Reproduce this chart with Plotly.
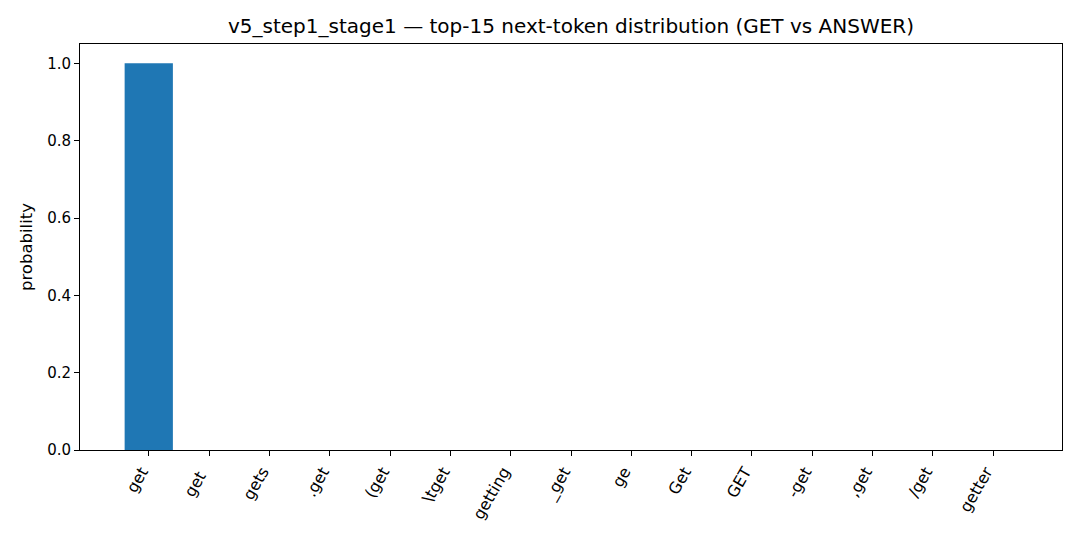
import plotly.graph_objects as go

tokens = ["get", "get ", "gets", ".get", "(get", "\\tget", "getting", "_get", "ge",
          "Get", "GET", "-get", ",get", "/get", "getter"]
probs = [0.99999, 2.0e-7, 8.0e-8, 6.0e-8, 4.0e-8, 3.0e-8, 2.0e-8, 1.5e-8, 1.2e-8,
         1.0e-8, 8.0e-9, 6.0e-9, 5.0e-9, 4.0e-9, 3.0e-9]
yticks = [0.0, 0.2, 0.4, 0.6, 0.8, 1.0]
title = "v5_step1_stage1 — top-15 next-token distribution (GET vs ANSWER)"

x = list(range(len(tokens)))
fig = go.Figure(go.Bar(x=x, y=probs, width=0.8, marker=dict(color="#1f77b4", line=dict(width=0))))

fig.update_layout(
    width=1080, height=540,
    margin=dict(l=80, r=18, t=44, b=90),
    paper_bgcolor="white", plot_bgcolor="white",
    font=dict(family="DejaVu Sans", size=15, color="black"),
    title=dict(text=title, x=0.5, xanchor="center", xref="paper", y=1 - 26/540, yanchor="middle",
               font=dict(size=20, family="DejaVu Sans")),
    showlegend=False,
)
fig.update_xaxes(
    range=[-1.14, 15.14], tickmode="array", tickvals=x, ticktext=tokens, tickangle=-60,
    showgrid=False, zeroline=False, showline=True, linecolor="black", linewidth=1, mirror=True,
    ticks="outside", ticklen=5, tickwidth=1, tickcolor="black", tickfont=dict(size=16),
    ticklabelshift=-7, ticklabelstandoff=0,
)
fig.update_yaxes(
    range=[0, 1.05], tickmode="array", tickvals=yticks, ticktext=[f"{v:.1f}" for v in yticks],
    showgrid=False, zeroline=False, showline=True, linecolor="black", linewidth=1, mirror=True,
    ticks="outside", ticklen=5, tickwidth=1, tickcolor="black", tickfont=dict(size=15),
    title=dict(text="probability", font=dict(size=16.5), standoff=10),
)
fig.write_html("out.html")
